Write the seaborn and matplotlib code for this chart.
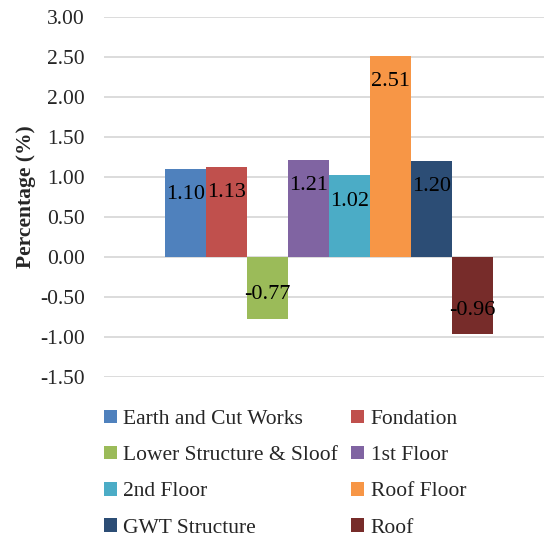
import matplotlib
matplotlib.use("Agg")
import matplotlib.pyplot as plt
import seaborn as sns
import pandas as pd

# ── Data ─────────────────────────────────────────────────────────────
SERIES = [
    "Earth and Cut Works", "Fondation", "Lower Structure & Sloof", "1st Floor",
    "2nd Floor", "Roof Floor", "GWT Structure", "Roof",
]
VALUES = [1.10, 1.13, -0.77, 1.21, 1.02, 2.51, 1.20, -0.96]
COLORS = ["#4F81BD", "#C0504D", "#9BBB59", "#8064A2",
          "#4BACC6", "#F79646", "#2C4D75", "#772C2A"]
YTICKS = [-1.5, -1.0, -0.5, 0.0, 0.5, 1.0, 1.5, 2.0, 2.5, 3.0]

df = pd.DataFrame({"cat": [""] * len(SERIES), "series": SERIES, "value": VALUES})

sns.set_theme(style="white")
plt.rcParams["font.family"] = ["Liberation Serif", "DejaVu Serif"]

fig = plt.figure(figsize=(5.44, 5.38), dpi=100)
# plot area runs past the right edge of the figure, like the original
ax = fig.add_axes([104 / 544, 1 - 377 / 538, 450 / 544, (377 - 17) / 538])

sns.barplot(data=df, x="cat", y="value", hue="series", hue_order=SERIES,
            palette=COLORS, width=0.73, gap=0, saturation=1, linewidth=0,
            ax=ax, legend=True)

ax.set_ylim(-1.5, 3.0)
ax.set_xlim(-0.5, 0.5)
ax.set_yticks(YTICKS)
ax.set_yticklabels([f"{v:.2f}" for v in YTICKS], fontsize=15.5)
ax.tick_params(axis="y", length=0, pad=13.7)
ax.set_xticks([])
ax.set_xlabel("")
ax.set_ylabel("Percentage (%)", fontsize=15.5, fontweight="bold")
ax.yaxis.set_label_coords(-(104 - 36) / 450, 0.5)
ax.grid(axis="y", color="#d9d9d9", linewidth=1.3)
ax.set_axisbelow(True)
for s in ax.spines.values():
    s.set_visible(False)

# labels inside the bar end
for patch, v in zip(ax.patches, VALUES):
    x = patch.get_x() + patch.get_width() / 2
    off = -18.5 if v > 0 else 17
    ax.annotate(f"{v:.2f}", xy=(x, v), xytext=(0, off), textcoords="offset points",
                ha="center", va="center", fontsize=16, color="black")

# legend row by row, two columns
handles, labels = ax.get_legend_handles_labels()
ax.legend_.remove()
order = [0, 2, 4, 6, 1, 3, 5, 7]
fig.legend([handles[i] for i in order], [labels[i] for i in order],
           ncol=2, frameon=False, fontsize=15.5,
           loc="upper left", bbox_to_anchor=(95 / 544, 1 - 401 / 538),
           handlelength=0.6, handleheight=0.6, handletextpad=0.3,
           labelspacing=0.78, columnspacing=0.62, borderaxespad=0)

fig.savefig("out.png", dpi=100)
